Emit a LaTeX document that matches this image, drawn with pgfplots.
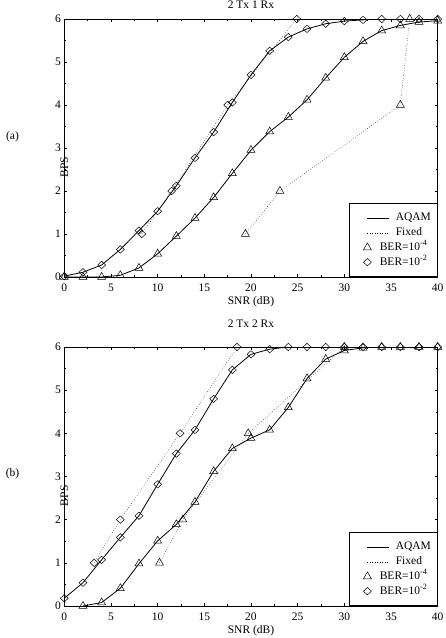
\documentclass[border=0pt]{standalone}
\usepackage{fontspec}
\setmainfont{Liberation Serif}
\usepackage{pgfplots}
\pgfplotsset{compat=1.18}

\newcommand{\fs}{\fontsize{11.5}{13}\selectfont}

\pgfplotsset{
 bpsaxis/.style={
  scale only axis, width=373.4pt, height=258pt,
  anchor=south west,
  xmin=0, xmax=40, ymin=0, ymax=6,
  xtick={0,5,...,40}, ytick={0,1,...,6},
  minor x tick num=1, minor y tick num=1,
  tick align=inside, major tick length=3pt, minor tick length=2pt,
  tick style={black, line width=0.5pt},
  axis line style={line width=0.9pt},
  /pgf/number format/assume math mode=true,
  font=\fs,
  xticklabel style={yshift=-3pt},
  xlabel={SNR (dB)}, ylabel={BPS},
  xlabel style={at={(axis description cs:0.5,0)}, anchor=center, yshift=-25pt},
  ylabel style={at={(axis description cs:0,0.5)}, anchor=center, xshift=-19.3pt},
  legend cell align=left,
  legend style={at={(1,0)}, anchor=south east, draw=black, line width=0.9pt, fill=white,
    inner xsep=4.3pt, inner ysep=7pt, row sep=0pt,
    nodes={inner sep=2pt, text height=8.2pt, text depth=2.5pt},
    /tikz/column 1/.style={column sep=4pt}},
 },
 aqam/.style={black, line width=0.8pt},
 fixed/.style={black, dotted, line width=0.5pt},
 tri/.style={mark=triangle, mark size=4.6pt, mark options={solid, line width=0.5pt}},
 dia/.style={mark=diamond, mark size=5.3pt, mark options={solid, line width=0.5pt, yscale=0.7}},
}

\newcommand{\bpslegend}{%
  \addlegendimage{legend image code/.code={\path (-13pt,0pt); \draw[black, line width=0.8pt] (0pt,0pt) -- (22pt,0pt);}}
  \addlegendentry{AQAM}
  \addlegendimage{legend image code/.code={\path (-13pt,0pt); \draw[black, dotted, line width=0.5pt] (0pt,0pt) -- (22pt,0pt);}}
  \addlegendentry{Fixed}
  \addlegendimage{legend image code/.code={\draw[black, line width=0.5pt, mark=triangle, mark size=4.6pt] plot coordinates {(0pt,0pt)};}}
  \addlegendentry{\hspace{-16pt}BER=10\textsuperscript{-4}}
  \addlegendimage{legend image code/.code={\draw[black, line width=0.5pt, mark=diamond, mark size=5.3pt, mark options={yscale=0.7}] plot coordinates {(0pt,0pt)};}}
  \addlegendentry{\hspace{-16pt}BER=10\textsuperscript{-2}}
}

\begin{document}
\begin{tikzpicture}
\useasboundingbox (0pt,0pt) rectangle (446pt,638pt);

% ---------------- (a) 2 Tx 1 Rx ----------------
\begin{axis}[bpsaxis, at={(64.3pt,361pt)}, title={2 Tx 1 Rx},
  title style={at={(axis description cs:0.5,1)}, anchor=north, inner sep=0pt, yshift=12.5pt}]
\bpslegend
% AQAM BER=1e-2
\addplot[aqam, dia, forget plot] coordinates {
(0,0.02) (2,0.11) (4,0.28) (6,0.64) (8,1.08) (10,1.53) (12,2.12) (14,2.77)
(16,3.37) (18,4.06) (20,4.70) (22,5.26) (24,5.58) (26,5.77) (28,5.89) (30,5.95)
(32,5.98) (34,6.0) (36,6.0) (38,6.0) (40,6.0)};
% AQAM BER=1e-4
\addplot[aqam, tri, forget plot] coordinates {
(0,0) (2,0) (4,0) (6,0.04) (8,0.21) (10,0.54) (12,0.95) (14,1.37) (16,1.85)
(18,2.41) (20,2.95) (22,3.38) (24,3.72) (26,4.12) (28,4.63) (30,5.11) (32,5.48)
(34,5.73) (36,5.85) (38,5.93) (40,5.96)};
% Fixed BER=1e-2
\addplot[fixed, dia, forget plot] coordinates {(8.3,1) (11.5,2) (17.5,4) (24.9,6)};
% Fixed BER=1e-4
\addplot[fixed, tri, forget plot] coordinates {(19.4,1) (23.1,2) (36.0,4) (37.0,6)};
\end{axis}

% ---------------- (b) 2 Tx 2 Rx ----------------
\begin{axis}[bpsaxis, at={(64.3pt,32pt)}, height=259pt, title={2 Tx 2 Rx},
  title style={at={(axis description cs:0.5,1)}, anchor=center, yshift=17pt}]
\bpslegend
% AQAM BER=1e-2
\addplot[aqam, dia, forget plot] coordinates {
(0,0.18) (2,0.54) (4,1.07) (6,1.59) (8,2.09) (10,2.82) (12,3.53) (14,4.08)
(16,4.80) (18,5.47) (20,5.83) (22,5.95) (24,6) (26,6) (28,6) (30,6)
(32,6) (34,6) (36,6) (38,6) (40,6)};
% AQAM BER=1e-4
\addplot[aqam, tri, forget plot] coordinates {
(2,0) (4,0.08) (6,0.41) (8,0.98) (10,1.51) (12,1.89) (14,2.41) (16,3.12)
(18,3.65) (20,3.89) (22,4.08) (24,4.60) (26,5.27) (28,5.72) (30,5.92)
(32,5.98) (34,6) (36,6) (38,6) (40,6)};
% Fixed BER=1e-2
\addplot[fixed, dia, forget plot] coordinates {(3.2,1) (6.0,2) (12.4,4) (18.5,6)};
% Fixed BER=1e-4
\addplot[fixed, tri, forget plot] coordinates {(10.2,1) (12.7,2) (19.7,4) (30.0,6)};
\end{axis}

\node[font=\fs] at (12.5pt,501pt) {(a)};
\node[font=\fs] at (12.5pt,164pt) {(b)};
\end{tikzpicture}
\end{document}
